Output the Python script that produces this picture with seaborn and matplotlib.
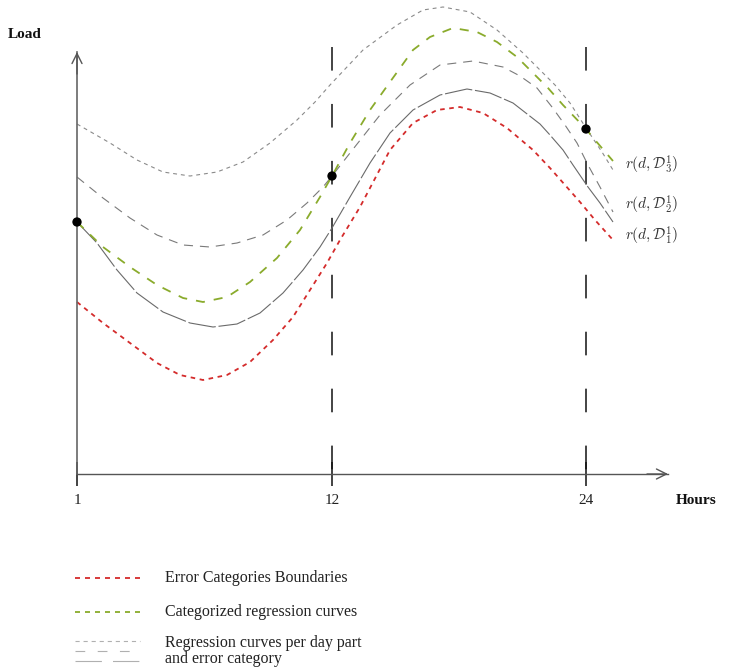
# load_schematic.py
# Schematic of error-category regression curves over one day

import numpy as np
import seaborn as sns
import matplotlib.pyplot as plt

sns.set_theme(style="white")
plt.rcParams['font.family'] = ['Liberation Serif', 'DejaVu Serif']
plt.rcParams['mathtext.fontset'] = 'cm'
plt.rcParams['lines.scale_dashes'] = False

# --- Data (x = position along the day axis, y = load) ---
hour_pos = [0, 255, 509]
hour_labels = ['1', '12', '24']

# top gray curve (regression per day part, upper category)
upper_x = [0, 33, 60, 86, 113, 140, 166, 193, 220, 238, 253, 286, 320, 346, 366, 393,
           420, 446, 463, 478, 493, 509, 525, 536]
upper_y = [350, 331, 314, 302, 298, 302, 312, 331, 354, 372, 389, 424, 449, 464, 467, 462,
           444, 421, 404, 389, 371, 346, 322, 304]

# middle gray curve
mid_x = [0, 26, 53, 80, 106, 133, 160, 186, 210, 230, 246, 255, 273, 303, 333, 363,
         396, 426, 443, 460, 475, 488, 500, 511, 523, 536]
mid_y = [297, 276, 256, 239, 229, 227, 231, 239, 254, 271, 287, 298, 321, 359, 389, 409,
         413, 407, 398, 386, 367, 349, 331, 309, 287, 262]

# lower gray curve (long dashes)
low_x = [0, 20, 40, 60, 86, 113, 136, 160, 183, 206, 226, 243, 255, 273, 293, 313,
         336, 363, 390, 413, 436, 463, 473, 486, 496, 511, 523, 536]
low_y = [252, 231, 204, 181, 162, 151, 147, 150, 161, 181, 204, 227, 246, 277, 311, 341,
         364, 379, 385, 381, 371, 350, 339, 324, 309, 287, 271, 252]

# categorized regression curve (green)
cat_x = [0, 26, 53, 80, 106, 126, 150, 173, 200, 223, 243, 255, 273, 293, 313, 336,
         353, 376, 400, 420, 440, 455, 471, 486, 509, 518, 536]
cat_y = [252, 227, 207, 189, 176, 172, 177, 192, 216, 244, 277, 298, 331, 364, 392, 424,
         437, 446, 442, 432, 417, 402, 386, 369, 345, 334, 313]

# error category boundary (red)
err_x = [0, 26, 53, 80, 103, 126, 150, 173, 196, 216, 233, 250, 263, 283, 313, 336,
         360, 383, 406, 430, 456, 473, 488, 503, 518, 536]
err_y = [172, 151, 131, 111, 99, 94, 99, 112, 134, 157, 184, 211, 234, 267, 324, 351,
         364, 367, 361, 346, 324, 306, 289, 272, 254, 234]

# points where the categorized curve meets the day-part boundaries
knot_x = [0, 255, 509]
knot_y = [252, 298, 345]

curve_names = [r'$r(d,\mathcal{D}^1_3)$', r'$r(d,\mathcal{D}^1_2)$', r'$r(d,\mathcal{D}^1_1)$']
curve_name_y = [309, 269, 238]

legend_texts = ['Error Categories Boundaries', 'Categorized regression curves',
                'Regression curves per day part\nand error category']

red = '#d42b2b'
green = '#8aab2c'

# --- Figure ---
fig = plt.figure(figsize=(7.44, 6.70), dpi=100)
ax = fig.add_axes([0, 0, 1, 1])
ax.set_xlim(-77, 667)
ax.set_ylim(-196, 474)

# day-part boundaries
for xp in hour_pos[1:]:
    ax.plot([xp, xp], [427, 0], color='#111111', lw=1.1, linestyle=(0, (17, 24)), zorder=1)

sns.lineplot(x=upper_x, y=upper_y, ax=ax, color='#8a8a8a', lw=0.8,
             linestyle=(0, (2.8, 2.8)), errorbar=None)
sns.lineplot(x=mid_x, y=mid_y, ax=ax, color='#7a7a7a', lw=0.8,
             linestyle=(0, (6.5, 5)), errorbar=None)
sns.lineplot(x=low_x, y=low_y, ax=ax, color='#6a6a6a', lw=0.8,
             linestyle=(0, (20, 2)), errorbar=None)
sns.lineplot(x=cat_x, y=cat_y, ax=ax, color=green, lw=1.3,
             linestyle=(0, (6.5, 6.5)), errorbar=None)
sns.lineplot(x=err_x, y=err_y, ax=ax, color=red, lw=1.3,
             linestyle=(0, (3.3, 3.3)), errorbar=None)
sns.scatterplot(x=knot_x, y=knot_y, ax=ax, color='black', s=45, edgecolor='none', zorder=5)

for name, yy in zip(curve_names, curve_name_y):
    ax.text(548, yy, name, fontsize=11, color='#333333', ha='left', va='center')

# axes drawn as arrows through the origin
for side in ['top', 'right']:
    ax.spines[side].set_visible(False)
ax.spines['left'].set_position(('data', 0))
ax.spines['bottom'].set_position(('data', 0))
ax.spines['left'].set_bounds(0, 422)
ax.spines['bottom'].set_bounds(0, 591)
ax.spines['left'].set_color('#666666')
ax.spines['bottom'].set_color('#555555')
ax.spines['left'].set_linewidth(1.2)
ax.spines['bottom'].set_linewidth(1.0)
ax.annotate('', xy=(0, 422), xytext=(0, 400),
            arrowprops=dict(arrowstyle='->', color='#555555', lw=1.0, mutation_scale=18,
                            shrinkA=0, shrinkB=0))
ax.annotate('', xy=(591, 0), xytext=(570, 0),
            arrowprops=dict(arrowstyle='->', color='#555555', lw=1.0, mutation_scale=18,
                            shrinkA=0, shrinkB=0))

ax.set_yticks([])
ax.set_xticks(hour_pos, labels=hour_labels)
ax.tick_params(axis='x', bottom=True, direction='inout', length=17, width=1.2,
               color='#222222', pad=6, labelsize=11, labelcolor='#222222')

ax.text(-69, 439, 'Load', fontsize=11, fontweight='bold', color='#111111',
        ha='left', va='center')
ax.text(599, -27, 'Hours', fontsize=11, fontweight='bold', color='#111111',
        ha='left', va='center')

# --- Legend drawn below the chart ---
leg_x = [-2, 63]
ax.plot(leg_x, [-104, -104], color=red, lw=1.3, linestyle=(0, (3.6, 3.6)))
ax.plot(leg_x, [-138, -138], color=green, lw=1.3, linestyle=(0, (3.6, 3.6)))
ax.plot(leg_x, [-167, -167], color='#b0b0b0', lw=0.8, linestyle=(0, (3, 2.8)))
ax.plot(leg_x, [-177, -177], color='#b0b0b0', lw=0.8, linestyle=(0, (7, 9)))
ax.plot(leg_x, [-187, -187], color='#b0b0b0', lw=0.8, linestyle=(0, (19, 8)))

for txt, yy in zip(legend_texts, [-104, -138, -177]):
    ax.text(88, yy, txt, fontsize=11.5, color='#222222', ha='left', va='center',
            linespacing=1.0)

fig.savefig('out.png', dpi=100)
